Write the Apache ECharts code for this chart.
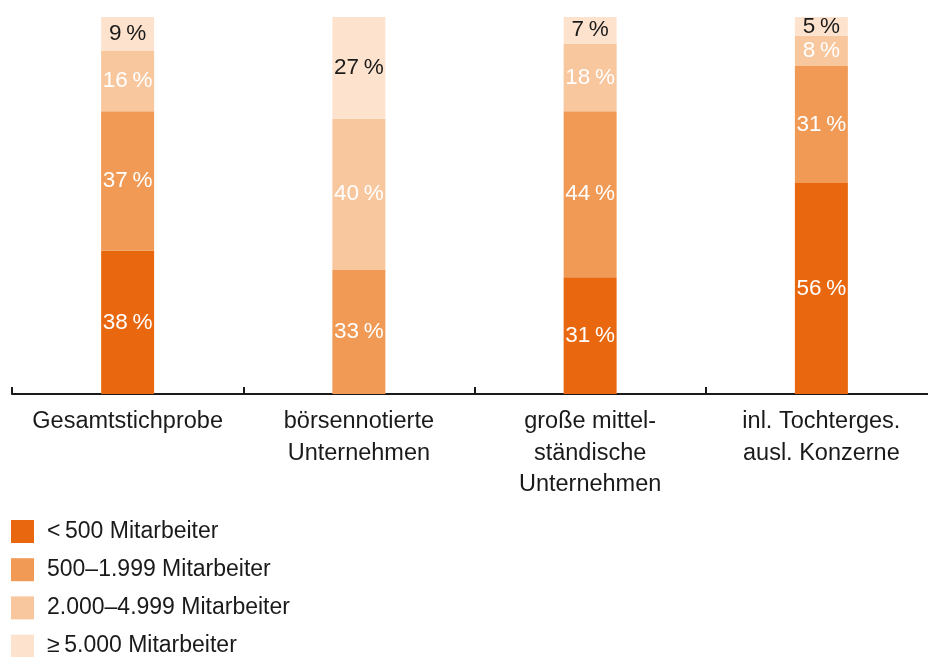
<!DOCTYPE html>
<html>
<head>
<meta charset="utf-8">
<script src="https://cdn.jsdelivr.net/npm/echarts@6/dist/echarts.min.js"></script>
<style>
  html, body { margin: 0; padding: 0; background: #fff; overflow: hidden; }
  /* the axis runs past the right edge of the picture */
  #chart { width: 937px; height: 657px; }
</style>
</head>
<body>
<div id="chart"></div>
<script>
  // Anteile je Unternehmensgröße (in %)
  var categories = ['Gesamtstichprobe', 'börsennotierte\nUnternehmen', 'große mittel-\nständische\nUnternehmen', 'inl. Tochterges.\nausl. Konzerne']
  var seriesNames = ['<\u2009500 Mitarbeiter', '500–1.999 Mitarbeiter', '2.000–4.999 Mitarbeiter', '≥\u20095.000 Mitarbeiter']
  var under500 = [38, 0, 31, 56]
  var from500 = [37, 33, 44, 31]
  var from2000 = [16, 40, 18, 8]
  var over5000 = [9, 27, 7, 5]

  var colors = ['#E9680F', '#F09A55', '#F8C79E', '#FDE3CD']
  var labelColors = ['#ffffff', '#ffffff', '#ffffff', '#1a1a1a']
  var values = [under500, from500, from2000, over5000]
  var font = '"Liberation Sans", Arial, sans-serif'

  var series = values.map(function (data, i) {
    return {
      name: seriesNames[i],
      type: 'bar',
      stack: 'total',
      barWidth: 53,
      data: data,
      itemStyle: { color: colors[i] },
      label: {
        show: true,
        position: 'inside',
        color: labelColors[i],
        fontSize: 22.5,
        fontFamily: font,
        formatter: function (p) {
          return p.value ? p.value + '\u2009%' : ''
        }
      }
    }
  })

  var chart = echarts.init(document.getElementById('chart'))
  chart.setOption({
    animation: false,
    color: colors,
    grid: {
      left: 12,
      right: 0,
      top: 17,
      bottom: 263
    },
    legend: {
      orient: 'vertical',
      left: 11,
      top: 520,
      padding: 0,
      height: 140,
      icon: 'rect',
      itemWidth: 23,
      itemHeight: 23,
      itemGap: 15.2,
      selectedMode: false,
      data: seriesNames,
      textStyle: {
        color: '#1a1a1a',
        fontSize: 23,
        fontFamily: font,
        padding: [0, 0, 0, 8]
      }
    },
    xAxis: {
      type: 'category',
      data: categories,
      axisLine: { lineStyle: { color: '#1a1a1a', width: 2 } },
      axisTick: {
        show: true,
        inside: true,
        interval: 0,
        alignWithLabel: false,
        length: 7,
        lineStyle: { color: '#1a1a1a', width: 2 }
      },
      axisLabel: {
        color: '#1a1a1a',
        fontSize: 23.5,
        fontFamily: font,
        lineHeight: 31.5,
        margin: 12,
        interval: 0
      }
    },
    yAxis: {
      type: 'value',
      min: 0,
      max: 100,
      show: false
    },
    series: series
  })
</script>
</body>
</html>
